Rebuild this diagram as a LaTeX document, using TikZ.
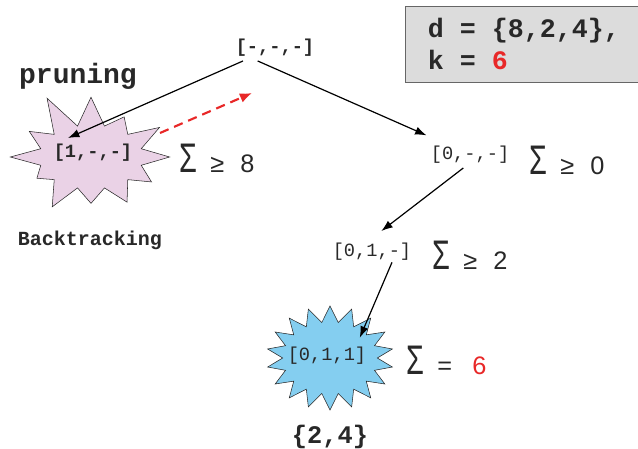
\documentclass[tikz,border=0pt]{standalone}
\usepackage{fontspec}
\setmainfont{Liberation Sans}
\setmonofont{Liberation Mono}
\usepackage{tikz}
\usetikzlibrary{shapes.symbols,arrows.meta,positioning}
\definecolor{pruneRed}{RGB}{232,40,40}
\definecolor{burstPink}{RGB}{234,210,230}
\definecolor{burstBlue}{RGB}{132,206,240}
\definecolor{infoGray}{RGB}{220,220,220}
\definecolor{textDark}{RGB}{40,40,40}

\begin{document}
\begin{tikzpicture}[
    x=0.75pt, y=-0.75pt,
    state/.style={inner sep=3pt, text=textDark, font=\ttfamily\fontsize{14}{16}\selectfont},
    boldstate/.style={state, font=\ttfamily\bfseries\fontsize{14}{16}\selectfont},
    note/.style={inner sep=0pt, text=textDark, font=\ttfamily\bfseries\fontsize{#1}{#1}\selectfont},
    sumtext/.style={anchor=west, inner sep=0pt, text=textDark, font=\fontsize{19}{22}\selectfont},
    burst/.style={starburst, draw=textDark, thin, inner sep=0pt},
    infobox/.style={rectangle, draw=black!60, fill=infoGray, thin, align=left,
                    anchor=north west, inner xsep=17pt, text=textDark,
                    font=\ttfamily\bfseries\fontsize{20}{24}\selectfont},
    arrow/.style={-{Latex[length=3mm, width=2.2mm]}, line width=0.9pt},
    backarrow/.style={-{Latex[length=3.2mm, width=2.6mm]}, pruneRed, line width=1.6pt,
                      dash pattern=on 7pt off 4.5pt}
]
\newcommand{\bigsum}{\scalebox{0.7}[1]{\fontsize{31}{31}\selectfont Σ}}

\useasboundingbox (0,0) rectangle (638,449);

% ================= INFO BOX =================
\node[infobox, minimum width=173pt, minimum height=57pt] (info) at (405,6)
    {d = \{8,2,4\},\\k = \textcolor{pruneRed}{6}};

% ================= TREE NODES =================
% Root
\node[boldstate] (root) at (275,48) {[-,-,-]};

% Pruned branch
\node[note=21] (pruning) at (78,76) {pruning};
\node[burst, fill=burstPink, starburst points=12, random starburst=11,
      starburst point height=28pt, minimum width=134pt, minimum height=104pt] (prune) at (91,157) {};
\node[boldstate] (pruneLbl) at (93,153) {[1,-,-]};
\node[note=15] (back) at (90,240) {Backtracking};

% Left branch downwards
\node[state] (zeroA) at (470,155) {[0,-,-]};
\node[state] (zeroB) at (372,252) {[0,1,-]};

% Solution
\node[burst, fill=burstBlue, starburst points=18, random starburst=0,
      starburst point height=12pt, minimum width=95pt, minimum height=78pt] (found) at (330,358) {};
\node[state] (foundLbl) at (327,356) {[0,1,1]};
\node[note=19] (subset) at (330,437) {\{2,4\}};

% Sums
\node[sumtext] (sumA) at (179,158) {\bigsum\hspace{10pt}≥\hspace{12pt}8};
\node[sumtext] (sumB) at (529,160) {\bigsum\hspace{10pt}≥\hspace{12pt}0};
\node[sumtext] (sumC) at (432,255) {\bigsum\hspace{10pt}≥\hspace{12pt}2};
\node[sumtext] (sumD) at (406,360) {\bigsum\hspace{10pt}=\hspace{15pt}\textcolor{pruneRed}{6}};

% Free ends
\coordinate (pruneTip) at (68,138);
\coordinate (backStart) at (160,133);
\coordinate (backEnd) at (252,93);

% ================= DRAWING ARROWS =================
\draw[arrow] ([xshift=-24pt]root.south) -- (pruneTip);
\draw[arrow] ([xshift=-13pt]root.south) -- ([yshift=5pt]zeroA.north west);
\draw[arrow] ([xshift=-5pt]zeroA.south) -- ([xshift=7pt,yshift=6pt]zeroB.north);
\draw[arrow] ([xshift=15pt,yshift=2pt]zeroB.south) -- ([xshift=-8pt,yshift=4pt]foundLbl.north east);

% Backtracking
\draw[backarrow] (backStart) -- (backEnd);

\end{tikzpicture}
\end{document}
